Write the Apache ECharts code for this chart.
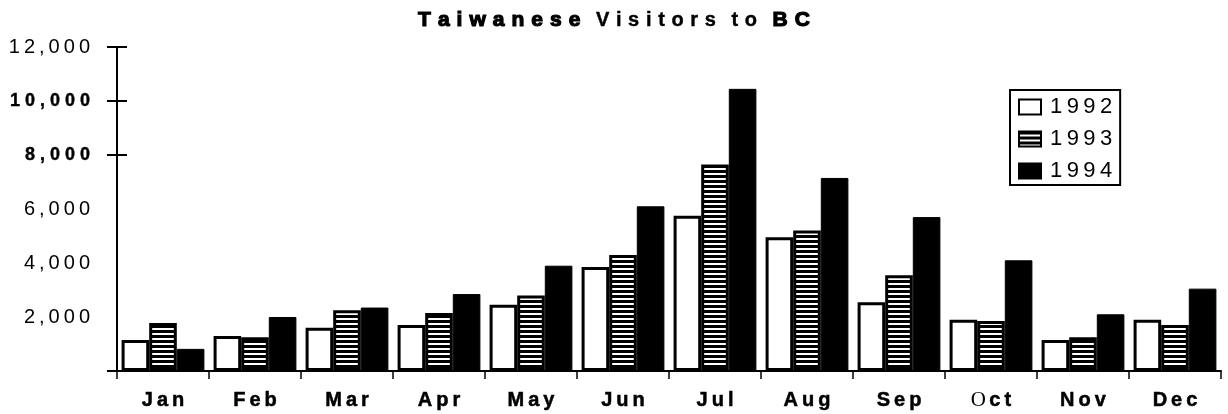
<!DOCTYPE html>
<html>
<head>
<meta charset="utf-8">
<script src="https://cdn.jsdelivr.net/npm/echarts@6/dist/echarts.min.js"></script>
<style>
  html, body { margin: 0; padding: 0; background: #fff; }
  #chart { width: 1228px; height: 414px; }
</style>
</head>
<body>
<div id="chart"></div>
<script>
// Monthly Taiwanese visitors to British Columbia, 1992-1994
const months = ['Jan', 'Feb', 'Mar', 'Apr', 'May', 'Jun', 'Jul', 'Aug', 'Sep', 'Oct', 'Nov', 'Dec'];
const years = ['1992', '1993', '1994'];
const visitors1992 = [1150, 1300, 1600, 1700, 2450, 3850, 5750, 4950, 2550, 1900, 1150, 1900];
const visitors1993 = [1780, 1250, 2250, 2150, 2800, 4300, 7650, 5200, 3550, 1850, 1250, 1700];
const visitors1994 = [820, 2000, 2350, 2850, 3900, 6100, 10450, 7150, 5700, 4100, 2100, 3050];
const yLabelValues = [2000, 4000, 6000, 8000, 10000, 12000];
const boldTicks = [8000, 10000];

const FONT = '"Liberation Sans", Arial, sans-serif';
const SERIF = '"Liberation Serif", "Times New Roman", serif';

// spread the letters of a string apart with a given spacer character
function spread(str, sp) {
  return str.split(' ').map(w => Array.from(w).join(sp)).join(' ');
}

// horizontal black/white stripe fill used for the 1993 bars
function stripes() {
  const c = document.createElement('canvas');
  c.width = 8; c.height = 5;
  const g = c.getContext('2d');
  g.fillStyle = '#fff'; g.fillRect(0, 0, 8, 5);
  g.fillStyle = '#000'; g.fillRect(0, 0, 8, 3);
  return c;
}

const chart = echarts.init(document.getElementById('chart'), null, { renderer: 'canvas' });

const titleText =
  '{h|' + spread('Taiwanese', '\u2004') + '}\u2002 ' +
  '{t|' + spread('Visitors', '\u2004') + '}\u2002 ' +
  '{t|' + spread('to', '\u2004') + '}\u2002 ' +
  '{h|' + spread('BC', '\u2004') + '}';

function monthLabel(m) {
  if (m === 'Oct') return '{o|O} {m|' + spread('ct', '\u2009') + '}';
  return '{m|' + spread(m, '\u2009') + '}';
}

function yLabel(v) {
  const s = v.toLocaleString('en-US');
  if (boldTicks.includes(v)) return '{b|' + Array.from(s).join(' ') + '}';
  return '{r|' + Array.from(s).join('\u2009') + '}';
}

const stripeFill = { image: stripes(), repeat: 'repeat' };

chart.setOption({
  animation: false,
  backgroundColor: '#fff',
  title: {
    text: titleText,
    left: 'center',
    top: 5,
    textStyle: {
      fontSize: 20,
      fontFamily: FONT,
      rich: {
        h: { fontFamily: FONT, fontSize: 21, fontWeight: 'bold', color: '#000', textBorderColor: '#000', textBorderWidth: 1.2 },
        t: { fontFamily: FONT, fontSize: 20, fontWeight: 'bold', color: '#000', textBorderColor: '#000', textBorderWidth: 0.4 }
      }
    }
  },
  legend: {
    orient: 'vertical',
    left: 1010,
    top: 90,
    padding: [6, 8, 3, 8],
    itemGap: 10,
    itemWidth: 22,
    itemHeight: 15,
    borderColor: '#000',
    borderWidth: 2,
    borderRadius: 0,
    icon: 'rect',
    data: years,
    formatter: name => Array.from(name).join('\u2009'),
    textStyle: { fontFamily: FONT, fontSize: 22, color: '#000', lineHeight: 22, padding: [0, 0, 0, 4] }
  },
  grid: { left: 117, right: 7, top: 47, bottom: 43, containLabel: false },
  xAxis: {
    type: 'category',
    data: months,
    boundaryGap: true,
    axisLine: { show: true, lineStyle: { color: '#000', width: 2 } },
    axisTick: { show: true, length: 8, lineStyle: { color: '#000', width: 1.5 } },
    axisLabel: {
      margin: 19,
      formatter: monthLabel,
      rich: {
        m: { fontFamily: FONT, fontSize: 20, fontWeight: 'bold', color: '#000', textBorderColor: '#000', textBorderWidth: 0.5 },
        o: { fontFamily: SERIF, fontSize: 21, fontWeight: 'normal', color: '#000' }
      }
    },
    splitLine: { show: false }
  },
  yAxis: [
    {
      type: 'value',
      min: 0,
      max: 12000,
      interval: 2000,
      axisLine: { show: true, lineStyle: { color: '#000', width: 2 } },
      axisTick: { show: true, length: 10, customValues: [0, 8000, 10000, 12000], lineStyle: { color: '#000', width: 2 } },
      axisLabel: {
        margin: 27,
        customValues: yLabelValues,
        formatter: yLabel,
        rich: {
          r: { fontFamily: FONT, fontSize: 20, color: '#000' },
          b: { fontFamily: FONT, fontSize: 18, fontWeight: 'bold', color: '#000', textBorderColor: '#000', textBorderWidth: 0.4 }
        }
      },
      splitLine: { show: false }
    },
    {
      type: 'value',
      min: 0,
      max: 12000,
      interval: 2000,
      position: 'left',
      axisLine: { show: false },
      axisTick: { show: true, inside: true, length: 10, customValues: [8000, 10000, 12000], lineStyle: { color: '#000', width: 2 } },
      axisLabel: { show: false },
      splitLine: { show: false }
    }
  ],
  series: [
    {
      name: '1992',
      type: 'bar',
      data: visitors1992,
      barGap: '0%',
      barCategoryGap: '10%',
      itemStyle: { color: '#fff', borderColor: '#000', borderWidth: 3 }
    },
    {
      name: '1993',
      type: 'bar',
      data: visitors1993,
      barGap: '0%',
      barCategoryGap: '10%',
      itemStyle: { color: stripeFill, borderColor: '#000', borderWidth: 3 }
    },
    {
      name: '1994',
      type: 'bar',
      data: visitors1994,
      barGap: '0%',
      barCategoryGap: '10%',
      itemStyle: { color: '#000', borderColor: '#000', borderWidth: 1 }
    }
  ]
});
</script>
</body>
</html>
